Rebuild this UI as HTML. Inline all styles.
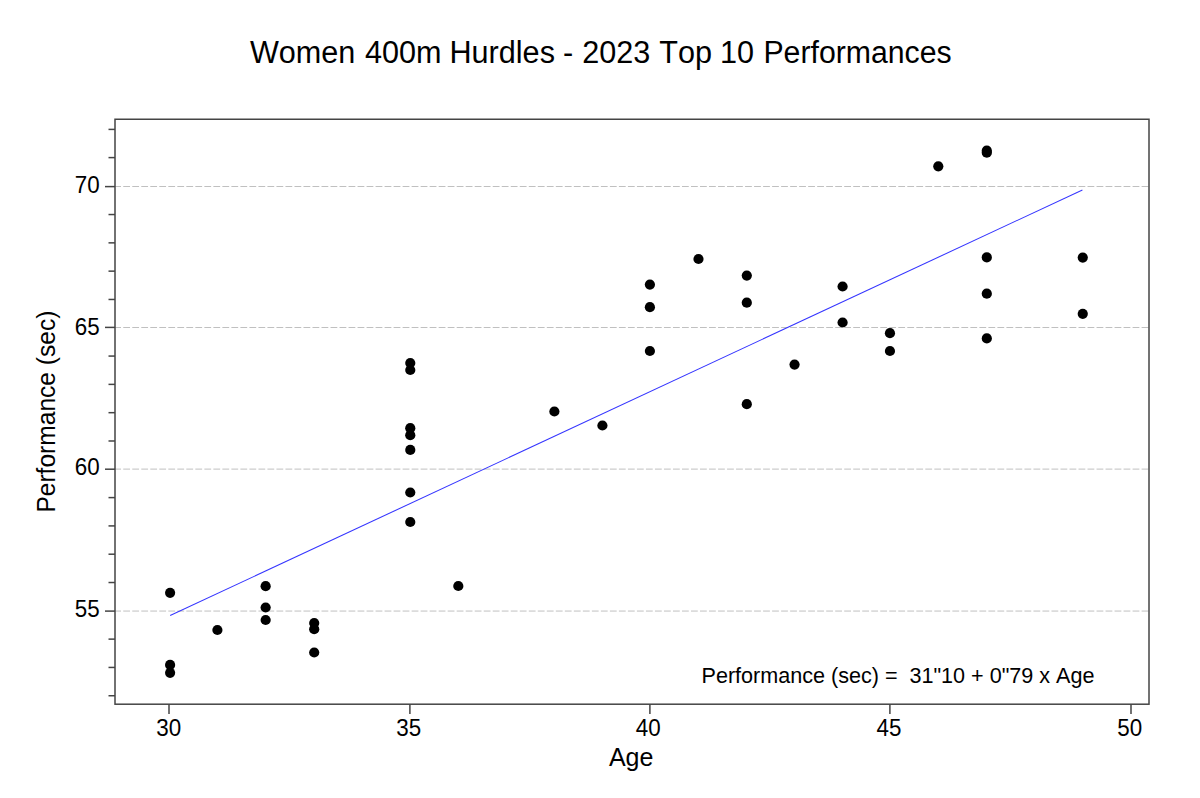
<!DOCTYPE html>
<html><head><meta charset="utf-8">
<style>
html,body{margin:0;padding:0;background:#fff;}
svg{display:block;}
text{font-family:"Liberation Sans", sans-serif;fill:#000;font-kerning:none;white-space:pre;}
</style></head>
<body>
<svg width="1200" height="798" viewBox="0 0 1200 798">
<rect width="1200" height="798" fill="#fff"/>
<text y="63.2" font-size="30.6"><tspan x="249.9">Women</tspan><tspan x="364.99">400m</tspan><tspan x="449.52">Hurdles</tspan><tspan x="562.94">-</tspan><tspan x="582.13">2023</tspan><tspan x="659.19">Top</tspan><tspan x="719.9">10</tspan><tspan x="763.44" textLength="188.2" lengthAdjust="spacingAndGlyphs">Performances</tspan></text>
<g stroke="#c0c0c0" stroke-width="1" stroke-dasharray="6.8 2.212">
<line x1="114.23" y1="611.05" x2="1149.0" y2="611.05"/>
<line x1="114.23" y1="469.10" x2="1149.0" y2="469.10"/>
<line x1="114.23" y1="327.50" x2="1149.0" y2="327.50"/>
<line x1="114.23" y1="186.50" x2="1149.0" y2="186.50"/>
</g>
<g stroke="#444444" stroke-width="1.5" fill="none">
<rect x="115.0" y="119.25" width="1034.00" height="584.95"/>
<line x1="108.5" y1="695.74" x2="115.0" y2="695.74"/>
<line x1="108.5" y1="667.44" x2="115.0" y2="667.44"/>
<line x1="108.5" y1="639.13" x2="115.0" y2="639.13"/>
<line x1="105" y1="611.10" x2="115.0" y2="611.10"/>
<line x1="108.5" y1="582.52" x2="115.0" y2="582.52"/>
<line x1="108.5" y1="554.21" x2="115.0" y2="554.21"/>
<line x1="108.5" y1="525.91" x2="115.0" y2="525.91"/>
<line x1="108.5" y1="497.60" x2="115.0" y2="497.60"/>
<line x1="105" y1="469.20" x2="115.0" y2="469.20"/>
<line x1="108.5" y1="440.99" x2="115.0" y2="440.99"/>
<line x1="108.5" y1="412.68" x2="115.0" y2="412.68"/>
<line x1="108.5" y1="384.38" x2="115.0" y2="384.38"/>
<line x1="108.5" y1="356.07" x2="115.0" y2="356.07"/>
<line x1="105" y1="327.40" x2="115.0" y2="327.40"/>
<line x1="108.5" y1="299.46" x2="115.0" y2="299.46"/>
<line x1="108.5" y1="271.15" x2="115.0" y2="271.15"/>
<line x1="108.5" y1="242.85" x2="115.0" y2="242.85"/>
<line x1="108.5" y1="214.54" x2="115.0" y2="214.54"/>
<line x1="105" y1="186.60" x2="115.0" y2="186.60"/>
<line x1="108.5" y1="157.60" x2="115.0" y2="157.60"/>
<line x1="108.5" y1="129.40" x2="115.0" y2="129.40"/>
<line x1="169.00" y1="704.2" x2="169.00" y2="714"/>
<line x1="409.90" y1="704.2" x2="409.90" y2="714"/>
<line x1="649.90" y1="704.2" x2="649.90" y2="714"/>
<line x1="889.90" y1="704.2" x2="889.90" y2="714"/>
<line x1="1131.00" y1="704.2" x2="1131.00" y2="714"/>
</g>
<g>
<text transform="translate(99.60 616.85) scale(1 1.06)" font-size="22.4" text-anchor="end" >55</text>
<text transform="translate(99.60 475.25) scale(1 1.06)" font-size="22.4" text-anchor="end" >60</text>
<text transform="translate(99.60 334.55) scale(1 1.06)" font-size="22.4" text-anchor="end" >65</text>
<text transform="translate(99.60 192.75) scale(1 1.06)" font-size="22.4" text-anchor="end" >70</text>
<text transform="translate(168.70 735.60) scale(1 1.06)" font-size="22.4" text-anchor="middle" >30</text>
<text transform="translate(408.70 735.60) scale(1 1.06)" font-size="22.4" text-anchor="middle" >35</text>
<text transform="translate(648.30 735.60) scale(1 1.06)" font-size="22.4" text-anchor="middle" >40</text>
<text transform="translate(888.90 735.60) scale(1 1.06)" font-size="22.4" text-anchor="middle" >45</text>
<text transform="translate(1129.70 735.60) scale(1 1.06)" font-size="22.4" text-anchor="middle" >50</text>
</g>
<text transform="translate(608.90 765.90) scale(1 1.0)" font-size="25" text-anchor="start" >Age</text>
<text transform="translate(54.5 512.6) rotate(-90)" font-size="25" textLength="202" lengthAdjust="spacingAndGlyphs">Performance (sec)</text>
<g fill="#000" >
<circle cx="170.10" cy="592.80" r="5.1"/>
<circle cx="170.10" cy="664.90" r="5.1"/>
<circle cx="170.10" cy="672.85" r="5.1"/>
<circle cx="217.40" cy="630.00" r="5.1"/>
<circle cx="265.65" cy="586.20" r="5.1"/>
<circle cx="265.65" cy="607.50" r="5.1"/>
<circle cx="265.65" cy="620.00" r="5.1"/>
<circle cx="314.20" cy="623.00" r="5.1"/>
<circle cx="314.20" cy="629.20" r="5.1"/>
<circle cx="314.20" cy="652.50" r="5.1"/>
<circle cx="410.27" cy="363.00" r="5.1"/>
<circle cx="410.27" cy="370.00" r="5.1"/>
<circle cx="410.27" cy="428.20" r="5.1"/>
<circle cx="410.27" cy="435.20" r="5.1"/>
<circle cx="410.27" cy="449.90" r="5.1"/>
<circle cx="410.27" cy="492.50" r="5.1"/>
<circle cx="410.27" cy="522.00" r="5.1"/>
<circle cx="458.31" cy="586.00" r="5.1"/>
<circle cx="554.38" cy="411.50" r="5.1"/>
<circle cx="602.41" cy="425.50" r="5.1"/>
<circle cx="649.90" cy="284.60" r="5.1"/>
<circle cx="649.90" cy="307.20" r="5.1"/>
<circle cx="649.90" cy="351.00" r="5.1"/>
<circle cx="698.49" cy="259.00" r="5.1"/>
<circle cx="746.80" cy="275.60" r="5.1"/>
<circle cx="746.80" cy="302.70" r="5.1"/>
<circle cx="746.80" cy="404.20" r="5.1"/>
<circle cx="794.55" cy="364.60" r="5.1"/>
<circle cx="842.59" cy="286.50" r="5.1"/>
<circle cx="842.59" cy="322.50" r="5.1"/>
<circle cx="889.95" cy="333.20" r="5.1"/>
<circle cx="889.95" cy="351.00" r="5.1"/>
<circle cx="938.30" cy="166.30" r="5.1"/>
<circle cx="986.80" cy="150.70" r="5.1"/>
<circle cx="986.80" cy="152.70" r="5.1"/>
<circle cx="986.80" cy="257.40" r="5.1"/>
<circle cx="986.80" cy="293.70" r="5.1"/>
<circle cx="986.80" cy="338.40" r="5.1"/>
<circle cx="1082.76" cy="257.60" r="5.1"/>
<circle cx="1082.76" cy="313.85" r="5.1"/>
</g>
<line x1="170.15" y1="615.5" x2="1082.4" y2="190.0" stroke="#3535ff" stroke-width="1.05"/>
<text transform="translate(701.5 682.6) scale(1 1.07)" font-size="21.2" textLength="393" lengthAdjust="spacingAndGlyphs">Performance (sec) =  31"10 + 0"79 x Age</text>
</svg>
</body></html>
